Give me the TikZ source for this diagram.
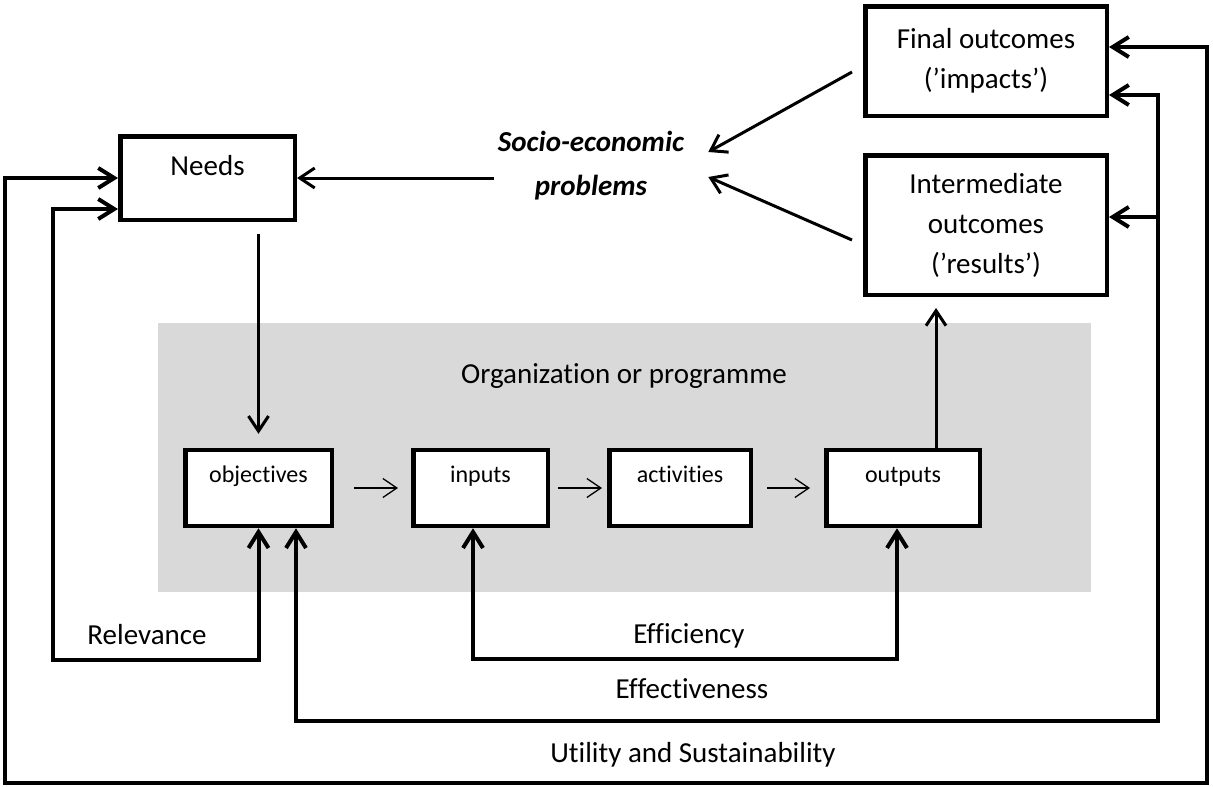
\documentclass[tikz,border=0pt]{standalone}
\usepackage{fontspec}
\setmainfont{Carlito}[Ligatures={TeX,NoCommon}]
\usepackage{tikz}
\usetikzlibrary{positioning, arrows.meta}
\definecolor{orggrey}{HTML}{D9D9D9}

\tikzset{
  bigtext/.style={font=\fontsize{29pt}{40pt}\selectfont},
  box/.style={rectangle, draw, line width=4.5pt, fill=white, bigtext, align=center},
  stepbox/.style={rectangle, draw, line width=4.5pt, fill=white, font=\fontsize{24pt}{30pt}\selectfont, minimum height=76pt, text height=17pt, text depth=29pt},
  loopline/.style={line width=4pt, >={Straight Barb[length=16pt,width=20pt]}},
  midline/.style={line width=3pt, >={Straight Barb[length=15pt,width=20pt]}, ->},
  thinline/.style={line width=1.3pt, >={Straight Barb[length=14pt,width=19pt]}, ->},
  looplabel/.style={bigtext, anchor=base}
}

\begin{document}
\begin{tikzpicture}[x=1pt, y=-1pt]
		\useasboundingbox (0,0) rectangle (1213,787);

		% programme area %
		\node[fill=orggrey, minimum width=933pt, minimum height=269pt, inner sep=0pt] (org) at (624.5,457.5) {};
		\node[looplabel] (orgname) at (624,383) {Organization or programme};

		% boxes %
		\node[box, minimum width=174.5pt, minimum height=83.5pt, text height=21pt, text depth=27pt] (needs) at (207.5,178) {Needs};
		\node[box, minimum width=241.5pt, minimum height=109.5pt] (final) at (986,61) {Final outcomes\\(’impacts’)};
		\node[box, minimum width=241.5pt, minimum height=139.5pt, below=35pt of final] (inter) {Intermediate\\outcomes\\(’results’)};
		\node[align=center, inner xsep=4pt, inner ysep=0pt, font=\fontsize{29pt}{44pt}\selectfont\bfseries\itshape] (socio) at (591,166) {Socio-economic\\problems};

		\node[stepbox, minimum width=146.5pt] (objectives) at (258.5,488) {objectives};
		\node[stepbox, minimum width=134.5pt, right=77pt of objectives] (inputs) {inputs};
		\node[stepbox, minimum width=141.5pt, right=57pt of inputs] (activities) {activities};
		\node[stepbox, minimum width=153.5pt, right=71pt of activities] (outputs) {outputs};

		% loop corners %
		\coordinate (relcorner) at (53,660);
		\coordinate (efficorner) at (690,659);
		\coordinate (effcorner) at (1158,721);
		\coordinate (utilleft) at (5,783);
		\coordinate (utilright) at (1207,783);
		\coordinate (interin) at ([yshift=8pt]inter.east);

		% edges %
		\draw[midline] (socio.west |- needs.east) -- (needs.east);
		\draw[midline] ([xshift=-11pt,yshift=-11pt]final.west) -- ([xshift=20pt,yshift=14pt]socio.east);
		\draw[midline] ([xshift=-11pt,yshift=-15pt]inter.west) -- ([xshift=20pt,yshift=-11pt]socio.east);
		\draw[midline, shorten <=12pt, shorten >=14pt] (objectives.north |- needs.south) -- (objectives.north);
		\draw[midline, shorten >=11pt] ([xshift=33pt]outputs.north) -- ([xshift=33pt]outputs.north |- inter.south);

		\draw[thinline, shorten <=20pt, shorten >=13pt] (objectives.east) -- (inputs.west);
		\draw[thinline, shorten <=8pt, shorten >=5pt] (inputs.east) -- (activities.west);
		\draw[thinline, shorten <=14pt, shorten >=14pt] (activities.east) -- (outputs.west);

		% feedback loops %
		\draw[loopline, <->] ([yshift=-31pt]needs.west) -| (relcorner) -| (objectives.south);
		\draw[loopline, <->] ([xshift=-7.5pt]inputs.south) |- (efficorner) -| ([xshift=-6pt]outputs.south);
		\draw[loopline, <->] ([xshift=37.5pt]objectives.south) |- (effcorner) |- ([yshift=-34pt]final.east);
		\draw[loopline, ->] (effcorner |- interin) -- (interin);
		\draw[loopline, <->] (needs.west) -| (utilleft) -- (utilright) |- ([yshift=14pt]final.east);

		% loop names %
		\node[looplabel] (relevance) at (147,644) {Relevance};
		\node[looplabel] (efficiency) at (689,643) {Efficiency};
		\node[looplabel] (effectiveness) at (692,698) {Effectiveness};
		\node[looplabel] (utility) at (693,762) {Utility and Sustainability};
\end{tikzpicture}
\end{document}
